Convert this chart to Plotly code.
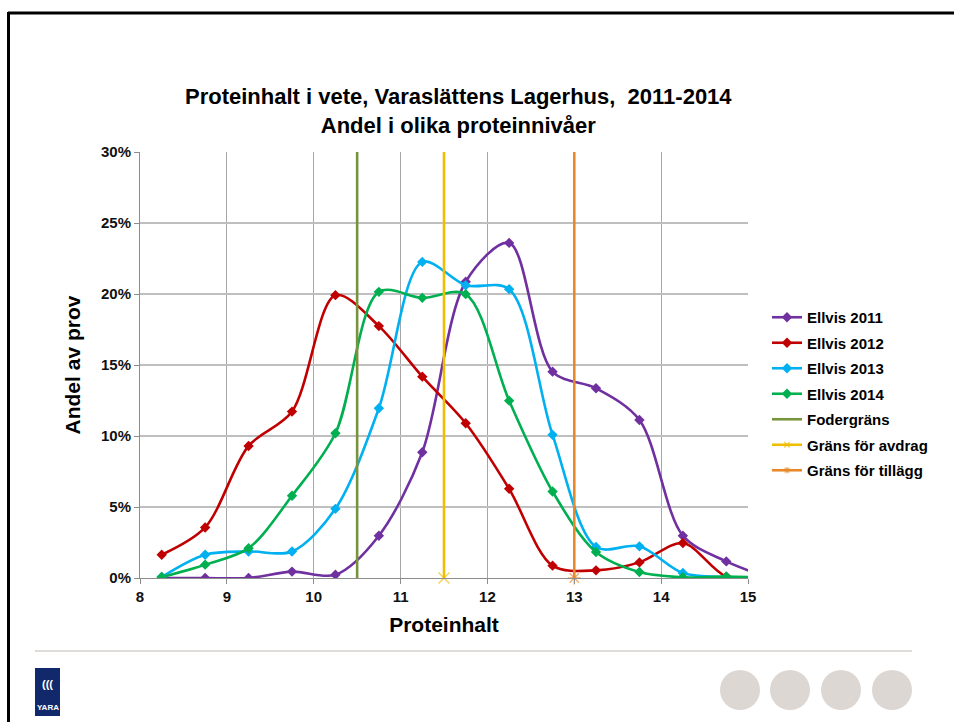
import plotly.graph_objects as go

# ---------------- data ----------------
protein = [8.25, 8.75, 9.25, 9.75, 10.25, 10.75, 11.25, 11.75, 12.25, 12.75,
           13.25, 13.75, 14.25, 14.75, 15.25]
ellvis_2011 = [0.0, 0.0, 0.0, 0.45, 0.23, 2.98, 8.86, 20.86, 23.6, 14.53,
               13.36, 11.13, 2.98, 1.17, 0.0]
ellvis_2012 = [1.64, 3.56, 9.3, 11.72, 19.92, 17.74, 14.18, 10.9, 6.28, 0.87,
               0.54, 1.1, 2.46, 0.1, 0.0]
ellvis_2013 = [0.07, 1.64, 1.87, 1.87, 4.87, 11.95, 22.26, 20.62, 20.34, 10.08,
               2.18, 2.23, 0.35, 0.05, 0.0]
ellvis_2014 = [0.07, 0.94, 2.1, 5.79, 10.19, 20.15, 19.73, 19.99, 12.49, 6.09,
               1.83, 0.42, 0.05, 0.1, 0.0]
fodergrans = 10.5
grans_avdrag = 11.5
grans_tillagg = 13.0
limit_span = [0, 30]

x_ticks = [8, 9, 10, 11, 12, 13, 14, 15]
y_ticks = [0, 5, 10, 15, 20, 25, 30]

series = [
    ("Ellvis 2011", ellvis_2011, "#7030A0"),
    ("Ellvis 2012", ellvis_2012, "#C00000"),
    ("Ellvis 2013", ellvis_2013, "#00B0F0"),
    ("Ellvis 2014", ellvis_2014, "#00B050"),
]

FONT = "Liberation Sans, Arial, sans-serif"
W, H = 954, 722
L, R, T, B = 140, 748, 152, 578  # plot area in px


def px(x):
    return (x - L) / (R - L)


def py(y):
    return (B - y) / (B - T)


fig = go.Figure()

for i, (name, vals, col) in enumerate(series):
    fig.add_trace(go.Scatter(
        x=protein, y=vals, name=f"<b>{name}</b>", mode="lines+markers",
        line=dict(color=col, width=2.6, shape="spline", smoothing=0.9),
        marker=dict(symbol="diamond", size=8, color=col),
        legendgroup=f"g{i}",
    ))

fig.add_trace(go.Scatter(
    x=[fodergrans, fodergrans], y=limit_span, name="<b>Fodergräns</b>", mode="lines",
    line=dict(color="#77933C", width=2.6), legendgroup="g4",
))
fig.add_trace(go.Scatter(
    x=[grans_avdrag, grans_avdrag], y=limit_span, name="<b>Gräns för avdrag</b>",
    mode="lines+markers",
    line=dict(color="#F0BE00", width=2.6),
    marker=dict(symbol="x-thin-open", size=[11, 0], color="#F0BE00",
                line=dict(color="#F0BE00", width=1.3)),
    legendgroup="g5", cliponaxis=False,
))
fig.add_trace(go.Scatter(
    x=[grans_tillagg, grans_tillagg], y=limit_span, name="<b>Gräns för tillägg</b>",
    mode="lines+markers",
    line=dict(color="#E5892B", width=2.6),
    marker=dict(symbol="asterisk-open", size=[11, 0], color="#E5892B",
                line=dict(color="#E5892B", width=1.3)),
    legendgroup="g6", cliponaxis=False,
))

shapes = [
    # slide frame
    dict(type="line", xref="paper", yref="paper", x0=px(8), x1=px(954),
         y0=py(13), y1=py(13), line=dict(color="black", width=3)),
    dict(type="line", xref="paper", yref="paper", x0=px(8.5), x1=px(8.5),
         y0=py(12), y1=py(722), line=dict(color="black", width=3)),
    # footer line
    dict(type="line", xref="paper", yref="paper", x0=px(35), x1=px(912),
         y0=py(651), y1=py(651), line=dict(color="#BDB8B2", width=1.2)),
    # logo box
    dict(type="rect", xref="paper", yref="paper", x0=px(35), x1=px(60),
         y0=py(716), y1=py(668), fillcolor="#11296B", line=dict(width=0),
         layer="below"),
]
for cx in [740, 790, 841, 892]:
    shapes.append(dict(type="circle", xref="paper", yref="paper",
                       x0=px(cx - 20), x1=px(cx + 20), y0=py(710), y1=py(670),
                       fillcolor="#DDD7D3", line=dict(width=0)))

annotations = [
    dict(text="<b>Proteinhalt i vete, Varaslättens Lagerhus,  2011-2014<br>Andel i olika proteinnivåer</b>",
         xref="paper", yref="paper", x=px(458), y=py(111), showarrow=False,
         font=dict(family=FONT, size=22, color="black"), xanchor="center",
         yanchor="middle", align="center"),
    dict(text="<b>(((</b>", xref="paper", yref="paper", x=px(47.5), y=py(684),
         xanchor="center", yanchor="middle", showarrow=False,
         font=dict(family=FONT, size=11, color="white")),
    dict(text="<b>YARA</b>", xref="paper", yref="paper", x=px(47.5), y=py(707),
         xanchor="center", yanchor="middle", showarrow=False,
         font=dict(family=FONT, size=8, color="white")),
]

fig.update_layout(
    width=W, height=H, autosize=False,
    margin=dict(l=L, r=W - R, t=T, b=H - B, pad=0),
    paper_bgcolor="white", plot_bgcolor="white",
    shapes=shapes, annotations=annotations,
    font=dict(family=FONT),
    xaxis=dict(range=[8, 15], tickvals=x_ticks,
               ticktext=[f"<b>{v}</b>" for v in x_ticks], showgrid=True,
               gridcolor="#A6A6A6", gridwidth=1, showline=True,
               linecolor="#8C8C8C", linewidth=1, ticks="outside", ticklen=5,
               tickcolor="#8C8C8C", zeroline=False,
               tickfont=dict(family=FONT, size=15, color="#111"),
               title=dict(text="<b>Proteinhalt</b>", standoff=13,
                          font=dict(family=FONT, size=21, color="black"))),
    yaxis=dict(range=[0, 30], tickvals=y_ticks, showgrid=True,
               gridcolor="#BFBFBF", gridwidth=2, showline=True,
               linecolor="#8C8C8C", linewidth=1, ticks="outside", ticklen=5,
               tickcolor="#8C8C8C", zeroline=False,
               ticktext=[f"<b>{v}%</b>" for v in y_ticks],
               tickfont=dict(family=FONT, size=15, color="#111"),
               title=dict(text="<b>Andel av prov</b>", standoff=14,
                          font=dict(family=FONT, size=21, color="black"))),
    legend=dict(x=px(767), y=py(301), xanchor="left", yanchor="top",
                font=dict(family=FONT, size=15, color="black"),
                tracegroupgap=3, traceorder="grouped",
                bgcolor="rgba(0,0,0,0)"),
    showlegend=True,
)
fig.update_layout(legend_itemwidth=30)

fig.write_html("out.html", config={"displayModeBar": False},
               post_script="document.body.style.margin='0';")
